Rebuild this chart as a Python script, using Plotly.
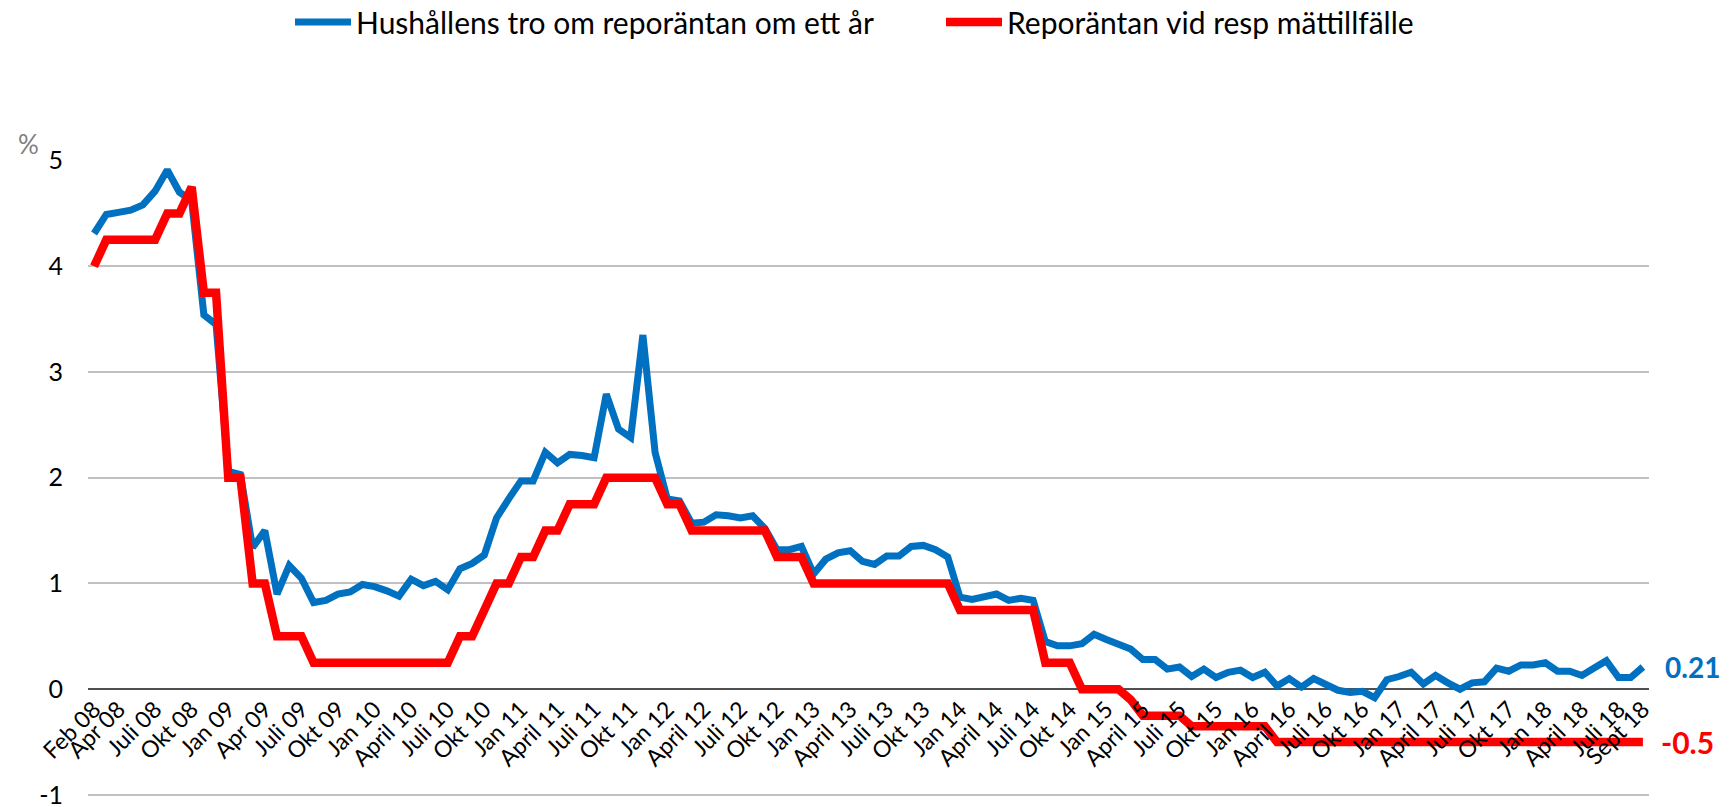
import plotly.graph_objects as go
import pandas as pd

# Monthly categories Feb 2008 .. Sep 2018
months = [d.strftime("%Y-%m") for d in pd.date_range("2008-02-01", "2018-09-01", freq="MS")]

hushall = [
    4.31, 4.49, 4.51, 4.53, 4.58, 4.71, 4.91, 4.70, 4.62, 3.54, 3.45,
    2.06, 2.03, 1.34, 1.50, 0.90, 1.17, 1.05, 0.82, 0.84, 0.90, 0.92, 0.99,
    0.97, 0.93, 0.88, 1.04, 0.98, 1.02, 0.94, 1.14, 1.19, 1.27, 1.62, 1.80,
    1.97, 1.97, 2.24, 2.14, 2.22, 2.21, 2.19, 2.79, 2.46, 2.38, 3.35, 2.24,
    1.80, 1.78, 1.57, 1.58, 1.65, 1.64, 1.62, 1.64, 1.52, 1.32, 1.32, 1.35,
    1.09, 1.23, 1.29, 1.31, 1.21, 1.18, 1.26, 1.26, 1.35, 1.36, 1.32, 1.25,
    0.87, 0.85, 0.88, 0.90, 0.84, 0.86, 0.84, 0.45, 0.41, 0.41, 0.43, 0.52,
    0.47, 0.42, 0.38, 0.28, 0.28, 0.19, 0.21, 0.12, 0.19, 0.11, 0.16, 0.18,
    0.11, 0.16, 0.03, 0.10, 0.02, 0.10, 0.05, -0.01, -0.03, -0.02, -0.08, 0.09,
    0.12, 0.16, 0.05, 0.13, 0.06, 0.00, 0.06, 0.07, 0.20, 0.17, 0.23, 0.23,
    0.25, 0.17, 0.17, 0.13, 0.20, 0.27, 0.11, 0.11, 0.21,
]

repo = [
    4.00, 4.25, 4.25, 4.25, 4.25, 4.25, 4.50, 4.50, 4.75, 3.75, 3.75,
    2.00, 2.00, 1.00, 1.00, 0.50, 0.50, 0.50, 0.25, 0.25, 0.25, 0.25, 0.25,
    0.25, 0.25, 0.25, 0.25, 0.25, 0.25, 0.25, 0.50, 0.50, 0.75, 1.00, 1.00,
    1.25, 1.25, 1.50, 1.50, 1.75, 1.75, 1.75, 2.00, 2.00, 2.00, 2.00, 2.00,
    1.75, 1.75, 1.50, 1.50, 1.50, 1.50, 1.50, 1.50, 1.50, 1.25, 1.25, 1.25,
    1.00, 1.00, 1.00, 1.00, 1.00, 1.00, 1.00, 1.00, 1.00, 1.00, 1.00, 1.00,
    0.75, 0.75, 0.75, 0.75, 0.75, 0.75, 0.75, 0.25, 0.25, 0.25, 0.00, 0.00,
    0.00, 0.00, -0.10, -0.25, -0.25, -0.25, -0.25, -0.35, -0.35, -0.35, -0.35, -0.35,
    -0.35, -0.35, -0.50, -0.50, -0.50, -0.50, -0.50, -0.50, -0.50, -0.50, -0.50, -0.50,
    -0.50, -0.50, -0.50, -0.50, -0.50, -0.50, -0.50, -0.50, -0.50, -0.50, -0.50, -0.50,
    -0.50, -0.50, -0.50, -0.50, -0.50, -0.50, -0.50, -0.50, -0.50,
]

tick_months = [
    "2008-02", "2008-04", "2008-07", "2008-10", "2009-01", "2009-04", "2009-07", "2009-10",
    "2010-01", "2010-04", "2010-07", "2010-10", "2011-01", "2011-04", "2011-07", "2011-10",
    "2012-01", "2012-04", "2012-07", "2012-10", "2013-01", "2013-04", "2013-07", "2013-10",
    "2014-01", "2014-04", "2014-07", "2014-10", "2015-01", "2015-04", "2015-07", "2015-10",
    "2016-01", "2016-04", "2016-07", "2016-10", "2017-01", "2017-04", "2017-07", "2017-10",
    "2018-01", "2018-04", "2018-07", "2018-09",
]
tick_text = [
    "Feb 08", "Apr 08", "Juli 08", "Okt 08", "Jan 09", "Apr 09", "Juli 09", "Okt 09",
    "Jan 10", "April 10", "Juli 10", "Okt 10", "Jan 11", "April 11", "Juli 11", "Okt 11",
    "Jan 12", "April 12", "Juli 12", "Okt 12", "Jan 13", "April 13", "Juli 13", "Okt 13",
    "Jan 14", "April 14", "Juli 14", "Okt 14", "Jan 15", "April 15", "Juli 15", "Okt 15",
    "Jan 16", "April 16", "Juli 16", "Okt 16", "Jan 17", "April 17", "Juli 17", "Okt 17",
    "Jan 18", "April 18", "Juli 18", "Sept 18",
]

y_ticks = [-1, 0, 1, 2, 3, 4, 5]
y_text = ["-1", "0", "1", "2", "3", "4", "5"]

BLUE = "#0070C0"
RED = "#FF0000"
FONT = "Lato"

fig = go.Figure()
fig.add_trace(go.Scatter(x=months, y=hushall, mode="lines",
                         name="Hushållens tro om reporäntan om ett år",
                         line=dict(color=BLUE, width=7)))
fig.add_trace(go.Scatter(x=months, y=repo, mode="lines",
                         name="Reporäntan vid resp mättillfälle",
                         line=dict(color=RED, width=8.5)))

fig.add_annotation(x=months[-1], y=hushall[-1], xref="x", yref="y", text="<b>0.21</b>",
                   showarrow=False, xanchor="left", xshift=20,
                   font=dict(family=FONT, size=28, color=BLUE))
fig.add_annotation(x=months[-1], y=repo[-1], xref="x", yref="y", text="<b>-0.5</b>",
                   showarrow=False, xanchor="left", xshift=16,
                   font=dict(family=FONT, size=30, color=RED))
fig.add_annotation(x=-0.0384, y=1.025, xref="paper", yref="paper", text="%",
                   showarrow=False, xanchor="center", yanchor="middle",
                   font=dict(family=FONT, size=26, color="#808080"))

fig.update_layout(
    width=1735, height=807,
    margin=dict(l=88, r=86, t=160, b=11, autoexpand=False),
    paper_bgcolor="white", plot_bgcolor="white",
    font=dict(family=FONT, color="black"),
    legend=dict(orientation="h", xref="container", yref="container",
                x=290 / 1735, xanchor="left", y=1 - 22 / 807, yanchor="middle",
                font=dict(family=FONT, size=30, color="black"), itemwidth=56,
                entrywidth=580,
                bgcolor="rgba(0,0,0,0)"),
    xaxis=dict(type="category", range=[-0.5, len(months) - 0.5],
               anchor="free", position=0.166, automargin=False,
               tickmode="array", tickvals=tick_months, ticktext=tick_text,
               tickangle=-45, tickfont=dict(family=FONT, size=23, color="black"),
               showgrid=False, showline=False, ticks="", zeroline=False),
    yaxis=dict(range=[-1.01, 5.005], tickmode="array", tickvals=y_ticks, ticktext=y_text,
               automargin=False, ticklabeloverflow="allow",
               tickfont=dict(family=FONT, size=25, color="black"),
               showgrid=True, gridcolor="#C0C0C0", gridwidth=1.8,
               zeroline=True, zerolinecolor="#505050", zerolinewidth=1.5,
               showline=False, ticks="", ticklabelstandoff=24),
)

fig.write_html("out.html", config={"displayModeBar": False},
               post_script="document.body.style.margin='0px';")
